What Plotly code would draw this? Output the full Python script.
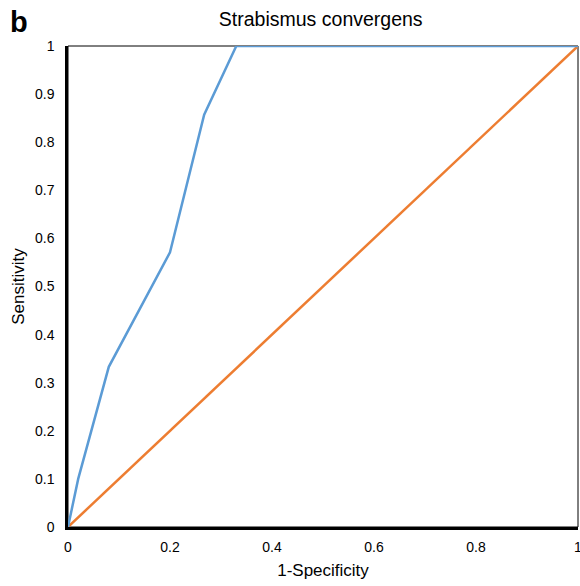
import plotly.graph_objects as go

roc_x = [0, 0.02, 0.08, 0.2, 0.267, 0.33, 1]
roc_y = [0, 0.1, 0.333, 0.571, 0.857, 1, 1]
ref_x = [0, 1]
ref_y = [0, 1]
x_ticks = [0, 0.2, 0.4, 0.6, 0.8, 1]
x_labels = ["0", "0.2", "0.4", "0.6", "0.8", "1"]
y_ticks = [0, 0.1, 0.2, 0.3, 0.4, 0.5, 0.6, 0.7, 0.8, 0.9, 1]
y_labels = ["0", "0.1", "0.2", "0.3", "0.4", "0.5", "0.6", "0.7", "0.8", "0.9", "1"]

fig = go.Figure()
fig.add_trace(go.Scatter(x=ref_x, y=ref_y, mode="lines",
                         line=dict(color="#ED7D31", width=2.5), showlegend=False,
                         cliponaxis=False))
fig.add_trace(go.Scatter(x=roc_x, y=roc_y, mode="lines",
                         line=dict(color="#5B9BD5", width=2.5), showlegend=False,
                         cliponaxis=False))

font = "Liberation Sans, Arial, sans-serif"
fig.update_layout(
    width=580, height=586,
    margin=dict(l=68, r=2, t=46, b=59),
    paper_bgcolor="white", plot_bgcolor="white",
    font=dict(family=font, color="black", size=14),
    title=dict(text="Strabismus convergens", x=0.553, xanchor="center",
               y=1 - 19 / 586, yanchor="middle", font=dict(size=19.5, family=font)),
    xaxis=dict(range=[0, 1], tickvals=x_ticks, ticktext=x_labels, showgrid=False,
               zeroline=False, showline=True, linecolor="black", linewidth=2.5,
               ticks="", ticklabelstandoff=5, ticklabeloverflow="allow",
               automargin=False,
               title=dict(text="1-Specificity", font=dict(size=17), standoff=11)),
    yaxis=dict(range=[0, 1], tickvals=y_ticks, ticktext=y_labels, showgrid=False,
               zeroline=False, showline=True, linecolor="black", linewidth=2.5,
               ticks="", ticklabelstandoff=8, ticklabeloverflow="allow",
               automargin=False,
               title=dict(text="Sensitivity", font=dict(size=17), standoff=7)),
    shapes=[dict(type="rect", xref="paper", yref="paper", x0=0, y0=0, x1=1, y1=1,
                 line=dict(color="black", width=1), layer="below")],
    annotations=[dict(text="<b>b</b>", xref="paper", yref="paper", x=-0.096,
                      y=(527 - 22) / 481,
                      xanchor="center", yanchor="middle", showarrow=False,
                      font=dict(size=29, family=font))],
)
fig.write_html("out.html", config={"displayModeBar": False},
               post_script="document.body.style.margin='0';document.body.style.padding='0';")
